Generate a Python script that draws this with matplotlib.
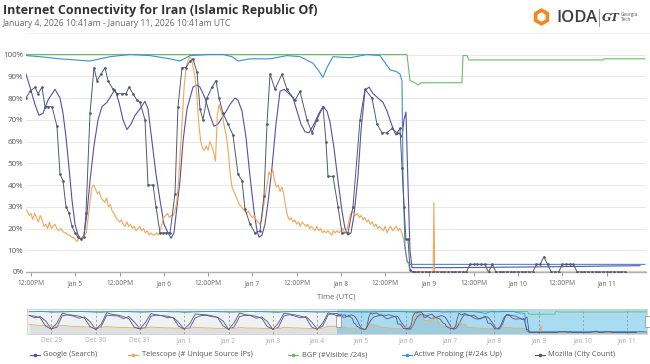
import numpy as np
import matplotlib.pyplot as plt
from matplotlib.lines import Line2D
from matplotlib.patches import Rectangle, RegularPolygon

plt.rcParams['font.family'] = ['Open Sans', 'DejaVu Sans']

W, H = 650, 364

# time is in hours since 2026-01-04 00:00 UTC
t_start, t_end = 10.68, 178.68      # Jan 4 10:41 -> Jan 11 10:41
nav_start = -157.32                 # Dec 28 10:41 (navigator range)

tick_hours = [12, 24, 36, 48, 60, 72, 84, 96, 108, 120, 132, 144, 156, 168]
tick_labels = ['12:00PM', 'Jan 5', '12:00PM', 'Jan 6', '12:00PM', 'Jan 7', '12:00PM',
               'Jan 8', '12:00PM', 'Jan 9', '12:00PM', 'Jan 10', '12:00PM', 'Jan 11']
nav_days = [-144, -120, -96, -72, -48, -24, 0, 24, 48, 72, 96, 120, 144, 168]
nav_labels = ['Dec 29', 'Dec 30', 'Dec 31', 'Jan 1', 'Jan 2', 'Jan 3', 'Jan 4',
              'Jan 5', 'Jan 6', 'Jan 7', 'Jan 8', 'Jan 9', 'Jan 10', 'Jan 11']

names = ['Google (Search)', 'Telescope (# Unique Source IPs)', 'BGP (#Visible /24s)',
         'Active Probing (#/24s Up)', 'Mozilla (City Count)']
colors = ['#5a4ea6', '#f2a65a', '#6cbb69', '#3f8fd0', '#4f5b70']

# ---- main window data (hour, percent) ----
google = [(10.65, 91), (11.74, 85), (13.09, 77), (14.18, 72), (15.26, 73), (16.61, 79),
          (18.51, 84), (19.87, 80), (20.68, 73), (21.49, 62), (22.31, 48), (23.12, 33),
          (23.93, 22), (24.74, 17), (25.56, 15), (26.37, 17), (27.18, 27), (28.0, 42),
          (29.08, 58), (30.17, 70), (31.25, 76), (32.6, 78), (33.69, 81), (34.77, 84),
          (35.86, 78), (36.94, 70), (38.02, 65.5), (39.11, 68), (40.19, 72), (41.55, 75),
          (42.9, 78.5), (43.72, 75), (44.8, 60), (45.88, 45), (46.97, 33), (48.05, 22),
          (48.86, 19), (49.95, 15.5), (50.76, 18), (51.57, 30), (52.39, 42), (53.2, 60),
          (54.28, 75), (55.1, 80), (55.91, 85), (56.99, 86), (57.81, 85), (59.16, 80),
          (60.52, 72), (61.6, 67), (62.69, 68), (64.58, 73), (65.94, 77), (67.29, 80),
          (68.11, 79), (69.19, 74), (70.27, 62), (71.36, 44), (72.44, 28), (73.25, 19),
          (73.8, 16), (74.61, 17), (75.42, 22), (76.24, 32), (77.32, 48), (78.4, 68),
          (79.49, 83), (80.57, 84), (81.93, 82), (83.01, 80), (84.09, 74), (85.18, 68),
          (86.26, 64.5), (87.35, 64), (88.7, 68), (90.06, 73), (91.14, 76), (92.22, 74),
          (93.04, 69), (94.12, 57), (95.21, 42), (96.29, 28), (97.1, 20), (97.92, 17),
          (98.73, 18), (99.54, 26), (100.63, 44), (101.44, 65), (102.52, 83.5), (103.61, 85),
          (104.69, 82), (106.04, 80), (107.4, 78), (108.48, 74), (109.3, 70), (110.11, 66),
          (110.92, 63), (111.74, 64), (112.55, 62), (113.09, 70), (113.63, 73.5), (114.18, 40),
          (114.72, 10), (115.26, 2), (125.56, 2), (139.11, 2.2), (152.66, 2.4), (166.21, 2.7),
          (177.05, 2.9)]

# telescope sampled every 30 min from 10.5h to 115h
tele_hours = np.arange(10.5, 115.25, 0.5)
tele_vals = [29, 28, 26, 27, 24, 27, 25, 23, 26, 24,
             21, 22, 20, 23, 20, 21, 22, 20, 19, 20,
             19, 18, 18, 17, 17, 16, 16, 15, 14, 16,
             15, 16, 17, 18, 25, 32, 39, 40, 38, 36,
             37, 34, 33, 32, 34, 30, 31, 28, 27, 25,
             24, 23, 24, 22, 21, 23, 21, 22, 20, 21,
             19, 20, 21, 19, 20, 18, 19, 17, 18, 17,
             17, 18, 17, 19, 22, 25, 26, 27, 25, 26,
             26, 28, 32, 42, 56, 70, 85, 93, 97, 99,
             98, 94, 89, 80, 68, 60, 57, 56, 58, 56,
             60, 58, 55, 51, 72, 77, 74, 71, 66, 62,
             55, 45, 39, 37, 35, 33, 31, 30, 29, 28,
             27, 28, 26, 25, 26, 24, 23, 22, 24, 30,
             35, 40, 46, 44, 47, 42, 39, 40, 37, 39,
             36, 30, 26, 24, 25, 23, 24, 22, 23, 21,
             23, 22, 21, 22, 20, 21, 20, 19, 21, 19,
             20, 18, 19, 18, 19, 18, 17, 19, 18, 19,
             18, 19, 20, 18, 19, 22, 26, 28, 27, 26,
             27, 25, 26, 24, 25, 23, 24, 22, 23, 21,
             22, 20, 21, 20, 19, 21, 18, 20, 21, 19,
             20, 21, 19, 20, 18, 15, 9, 5, 2, 0]
tele_tail = [(115.5, 0), (121.0, 0), (121.2, 32), (121.4, 0), (178.6, 0)]

bgp = [(10.65, 100), (113.9, 100), (114.72, 88), (116.07, 87), (116.89, 86), (117.7, 87),
       (128.81, 87), (129.08, 99.5), (130.16, 99.5), (130.71, 97.5), (167.02, 97.5),
       (167.29, 98), (178.4, 98)]

probing = [(10.65, 99.5), (14.45, 99), (19.87, 98), (23.93, 97.5), (28.0, 97), (30.71, 98),
           (33.42, 99), (38.84, 100), (44.26, 99.5), (49.68, 98), (52.39, 97), (55.1, 99.5),
           (60.52, 100), (64.04, 100), (66.48, 99), (68.11, 97), (71.36, 98), (76.78, 98),
           (81.38, 99.5), (84.91, 99), (88.43, 96), (89.79, 93), (91.14, 89.5), (92.22, 94),
           (93.85, 99), (98.46, 98.5), (103.06, 100), (106.59, 99.5), (109.3, 93),
           (111.19, 92), (112.01, 91), (112.55, 88), (112.82, 45), (113.36, 12), (113.9, 5),
           (114.72, 3.5), (178.4, 3.5)]

mozilla = [(10.65, 80), (11.74, 83), (13.09, 85), (13.9, 82), (14.99, 85), (15.8, 76),
           (16.61, 76), (17.7, 76), (19.05, 67), (19.87, 45), (20.68, 42), (21.49, 30),
           (22.31, 27), (23.12, 21), (23.93, 18), (24.74, 16), (25.56, 15), (26.37, 16),
           (26.91, 27), (28.0, 73), (29.08, 94), (29.89, 88), (30.98, 91), (32.06, 94),
           (32.88, 88), (34.23, 84), (35.31, 82), (36.67, 82), (37.75, 82), (38.57, 85),
           (39.65, 82), (40.73, 79), (41.55, 78), (42.9, 70), (43.72, 40), (45.07, 40),
           (45.88, 30), (46.97, 18), (47.78, 18), (48.59, 18), (49.68, 18), (51.03, 36),
           (51.84, 76), (52.93, 94), (54.01, 94), (55.1, 97), (55.91, 98), (56.99, 92),
           (57.81, 75), (58.62, 70), (59.7, 80), (61.06, 85), (62.14, 88), (62.96, 80),
           (64.04, 73), (65.39, 68), (66.75, 63), (68.11, 45), (69.19, 42), (70.0, 29),
           (71.36, 22), (72.71, 18), (74.07, 19), (75.15, 35), (75.96, 68), (76.78, 91),
           (78.13, 84), (80.03, 91), (81.38, 84), (83.55, 79), (84.91, 83), (86.8, 70),
           (88.16, 64), (89.51, 70), (91.14, 76), (91.95, 60), (92.5, 44), (93.85, 44),
           (95.21, 30), (96.29, 18), (97.92, 18), (99.27, 30), (101.17, 70), (102.52, 84),
           (104.42, 80), (105.77, 68), (107.13, 64), (108.48, 64), (109.84, 66),
           (111.19, 64), (112.01, 66), (112.55, 48), (113.09, 30), (113.63, 15),
           (114.18, 15), (114.72, 1), (115.53, 0)]
# Mozilla after the shutdown, hourly from 116h to 173h
moz_tail_hours = np.arange(116, 174)
moz_tail_vals = [0, 0, 0, 0, 0, 0, 0, 0, 0, 0, 0, 0, 0, 0, 0,
                 3.5, 3.5, 3.5, 3.5, 3.5, 0, 3.5, 0,
                 0, 0, 0, 0, 0, 0, 0, 0, 0, 0,
                 3.5, 3.5, 7, 3.5, 0, 0, 0,
                 3.5, 3.5, 3.5, 3.5, 0,
                 0, 0, 0, 0, 0, 0, 0, 0, 0, 0, 0, 0, 0]

# ---- navigator history, Dec 28 12:00 -> Jan 4 09:00 every 3h ----
hist_hours = np.arange(-156, 10, 3)
google_hist = [82, 70, 76, 55,
               17, 25, 80, 84, 78, 68, 74, 52,
               16, 28, 82, 80, 79, 66, 76, 50,
               18, 24, 78, 83, 80, 70, 72, 48,
               17, 22, 70, 80, 82, 75, 73, 55,
               16, 26, 76, 82, 80, 68, 74, 52,
               15, 24, 79, 85, 78, 70, 76, 50,
               17, 30, 85, 90]
tele_hist = [38, 36, 34, 33,
             31, 30, 34, 31, 29, 28, 27, 26,
             25, 24, 28, 26, 25, 24, 23, 22,
             22, 21, 26, 24, 23, 22, 21, 21,
             20, 20, 25, 23, 22, 21, 20, 20,
             19, 19, 24, 22, 21, 21, 20, 19,
             19, 18, 25, 23, 22, 21, 20, 19,
             18, 20, 30, 30]
bgp_hist = [100] * 56
probing_hist = [99, 99, 100, 99,
                97, 97, 98, 99, 100, 100, 99, 98,
                97, 96, 98, 99, 100, 99, 99, 98,
                97, 97, 99, 100, 100, 99, 98, 98,
                96, 97, 98, 99, 100, 100, 99, 98,
                97, 97, 98, 99, 100, 99, 99, 98,
                97, 96, 98, 99, 100, 100, 99, 98,
                97, 97, 98, 99]
mozilla_hist = [80, 78, 70, 30,
                16, 45, 92, 85, 82, 78, 68, 28,
                15, 40, 94, 86, 83, 76, 66, 25,
                17, 48, 90, 84, 80, 78, 70, 30,
                16, 42, 88, 86, 84, 80, 72, 32,
                15, 46, 93, 85, 82, 77, 68, 28,
                16, 44, 92, 88, 84, 78, 70, 26,
                15, 45, 94, 86]


def px_rect(x0, y0, x1, y1):
    return [x0 / W, 1 - y1 / H, (x1 - x0) / W, (y1 - y0) / H]


def unzip(pairs):
    a = np.array(pairs, dtype=float)
    return a[:, 0], a[:, 1]


g_h, g_v = unzip(google)
tt_h, tt_v = unzip(tele_tail)
t_h = np.concatenate([tele_hours, tt_h])
t_v = np.concatenate([tele_vals, tt_v])
b_h, b_v = unzip(bgp)
p_h, p_v = unzip(probing)
m_h, m_v = unzip(mozilla)
m_h = np.concatenate([m_h, moz_tail_hours])
m_v = np.concatenate([m_v, moz_tail_vals])

series = [(g_h, g_v), (t_h, t_v), (b_h, b_v), (p_h, p_v), (m_h, m_v)]
hists = [google_hist, tele_hist, bgp_hist, probing_hist, mozilla_hist]

fig = plt.figure(figsize=(W / 100, H / 100), dpi=100)

# title block
fig.text(3 / W, 1 - 10.5 / H, 'Internet Connectivity for Iran (Islamic Republic Of)',
         fontsize=9, weight='bold', color='#333333', va='center')
fig.text(3 / W, 1 - 23 / H, 'January 4, 2026 10:41am - January 11, 2026 10:41am UTC',
         fontsize=6.2, color='#6a6a6a', va='center')
fig.add_artist(Line2D([26 / W, 1], [1 - 33 / H, 1 - 33 / H], color='#ececec', lw=0.6))

# logo
lax = fig.add_axes(px_rect(528, 4, 650, 30))
lax.set_xlim(528, 650)
lax.set_ylim(30, 4)
lax.axis('off')
lax.add_patch(RegularPolygon((541.5, 17), 6, radius=6.8, fill=False, ec='#ee8a1e', lw=2.6))
lax.text(556, 17.5, 'IODA', fontsize=12, weight='semibold', color='#3d3d3d', va='center')
lax.plot([599, 599], [9, 26], color='#888888', lw=0.6)
lax.text(602, 17.5, 'GT', fontsize=8, weight='bold', style='italic', family='DejaVu Serif',
         color='#444444', va='center')
lax.text(620.5, 17, 'Georgia\nTech', fontsize=3.4, color='#555555', va='center', linespacing=1.0)

# main chart
ax = fig.add_axes(px_rect(26.1, 50, 646, 272))
ax.set_xlim(t_start, t_end)
ax.set_ylim(0, 102.07)
for s in ['top', 'right', 'left']:
    ax.spines[s].set_visible(False)
ax.spines['bottom'].set_color('#b0b0b0')
ax.spines['bottom'].set_linewidth(1)
ax.set_yticks(range(0, 101, 10), [f'{v}%' for v in range(0, 101, 10)])
ax.yaxis.grid(True, color='#e8e8e8', lw=0.7)
ax.set_axisbelow(True)
ax.tick_params(axis='y', length=0, pad=2, labelsize=5.8, labelcolor='#555555')
ax.set_xticks(tick_hours, tick_labels)
ax.tick_params(axis='x', length=3, width=0.7, color='#999999', pad=3, labelsize=4.8,
               labelcolor='#666666')

for i, (h, v) in enumerate(series):
    if i == 4:
        ax.plot(h, v, color=colors[i], lw=0.7, marker='o', ms=0.9, zorder=3 + i)
    else:
        ax.plot(h, v, color=colors[i], lw=0.8, zorder=3 + i)

fig.text(0.5 * (26.1 + 646) / W, 1 - 297 / H, 'Time (UTC)', fontsize=5.5, color='#666666',
         ha='center', va='center')

# navigator
nav = fig.add_axes(px_rect(26.7, 309, 647, 334))
nav.set_xlim(nav_start, t_end)
nav.set_ylim(-7.1, 111.9)
nav.set_facecolor('#eef2f2')
for s in nav.spines.values():
    s.set_color('#cfcfcf')
    s.set_linewidth(0.6)
nav.set_yticks([])
nav.set_xticks(nav_days, nav_labels)
nav.tick_params(axis='x', length=0, pad=2.5, labelsize=4.8, labelcolor='#aaaaaa')
nav.axvspan(t_start, t_end, color='#a9dcf1', zorder=0.5, lw=0)
for d in nav_days:
    nav.axvline(d, color='#8a8a8a', ls=(0, (3, 3)), lw=0.5, zorder=1)

all_t_h = np.concatenate([hist_hours, t_h])
all_t_v = np.concatenate([tele_hist, t_v])
nav.fill_between(all_t_h, all_t_v, -7.1, color='#000000', alpha=0.07, lw=0, zorder=1.5)
for i, (h, v) in enumerate(series):
    nav.plot(np.concatenate([hist_hours, h]), np.concatenate([hists[i], v]),
             color=colors[i], lw=0.6, zorder=2 + i)

for hx in [338, 647]:
    fig.add_artist(Rectangle(((hx - 2.5) / W, 1 - 327 / H), 5 / W, 11 / H,
                             transform=fig.transFigure, fc='white', ec='#999999', lw=0.6))

# legend
leg_y = 1 - 355 / H
leg_pos = [(30, 43), (128, 142), (288, 302), (402, 414), (535, 548)]
for i, (mx, tx) in enumerate(leg_pos):
    fig.add_artist(Line2D([mx / W, (mx + 10) / W], [leg_y, leg_y], color=colors[i], lw=0.8))
    fig.add_artist(Line2D([(mx + 5) / W], [leg_y], color=colors[i], marker='o', ms=1.6))
    fig.text(tx / W, leg_y, names[i], fontsize=5.4, color='#555555', va='center')

fig.savefig('out.png', dpi=100)
